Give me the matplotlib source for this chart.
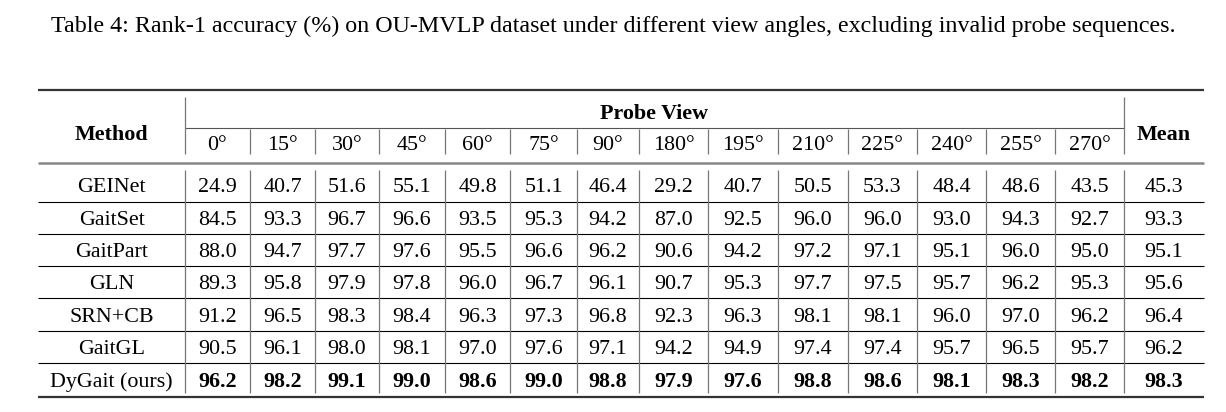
import matplotlib
matplotlib.use("Agg")
import matplotlib.pyplot as plt

plt.rcParams["font.family"] = ["Liberation Serif", "DejaVu Serif"]

TITLE = ("Table 4: Rank-1 accuracy (%) on OU-MVLP dataset under different view angles, "
         "excluding invalid probe sequences.")
angles = ["0°", "15°", "30°", "45°", "60°", "75°", "90°", "180°", "195°", "210°",
          "225°", "240°", "255°", "270°"]
methods = ["GEINet", "GaitSet", "GaitPart", "GLN", "SRN+CB", "GaitGL", "DyGait (ours)"]
geinet = [24.9, 40.7, 51.6, 55.1, 49.8, 51.1, 46.4, 29.2, 40.7, 50.5, 53.3, 48.4, 48.6, 43.5]
gaitset = [84.5, 93.3, 96.7, 96.6, 93.5, 95.3, 94.2, 87.0, 92.5, 96.0, 96.0, 93.0, 94.3, 92.7]
gaitpart = [88.0, 94.7, 97.7, 97.6, 95.5, 96.6, 96.2, 90.6, 94.2, 97.2, 97.1, 95.1, 96.0, 95.0]
gln = [89.3, 95.8, 97.9, 97.8, 96.0, 96.7, 96.1, 90.7, 95.3, 97.7, 97.5, 95.7, 96.2, 95.3]
srn_cb = [91.2, 96.5, 98.3, 98.4, 96.3, 97.3, 96.8, 92.3, 96.3, 98.1, 98.1, 96.0, 97.0, 96.2]
gaitgl = [90.5, 96.1, 98.0, 98.1, 97.0, 97.6, 97.1, 94.2, 94.9, 97.4, 97.4, 95.7, 96.5, 95.7]
dygait = [96.2, 98.2, 99.1, 99.0, 98.6, 99.0, 98.8, 97.9, 97.6, 98.8, 98.6, 98.1, 98.3, 98.2]
means = [45.3, 93.3, 95.1, 95.6, 96.4, 96.2, 98.3]
rows = [geinet, gaitset, gaitpart, gln, srn_cb, gaitgl, dygait]

# layout in pixels
W, H = 1226, 412
left, right = 38, 1204
col_edges = [185, 250, 315, 379, 445, 510, 577, 639, 708, 778, 848, 917, 986, 1055, 1124]
row_edges = [163, 202, 234, 266, 298, 331, 363, 397]
FS_TITLE = 17.3
FS = 15.8

fig = plt.figure(figsize=(W / 100, H / 100), dpi=100)
ax = fig.add_axes([0, 0, 1, 1])
ax.set_xlim(0, W)
ax.set_ylim(H, 0)
ax.axis("off")

ax.text(W / 2, 26, TITLE, ha="center", va="center", fontsize=FS_TITLE)

# rules
ax.hlines(90, left, right, color="#333333", lw=1.6)
ax.hlines(163, left, right, color="#888888", lw=1.8)
ax.hlines(397, left, right, color="#333333", lw=1.6)
ax.hlines(128, col_edges[0], col_edges[-1], color="#555555", lw=0.8)
ax.hlines(row_edges[1:-1], left, right, color="black", lw=0.8)

# vertical lines
ax.vlines([col_edges[0], col_edges[-1]], 97, 154, color="#777777", lw=0.9)
ax.vlines(col_edges[1:-1], 129, 154, color="#777777", lw=0.9)
ax.vlines(col_edges, 170, 393, color="#777777", lw=0.9)

# header (baseline positions)
ax.text((left + col_edges[0]) / 2, 140, "Method", ha="center", va="baseline",
        fontsize=FS, fontweight="bold")
ax.text((col_edges[0] + col_edges[-1]) / 2, 119, "Probe View", ha="center", va="baseline",
        fontsize=FS, fontweight="bold")
ax.text((col_edges[-1] + right) / 2, 140, "Mean", ha="center", va="baseline",
        fontsize=FS, fontweight="bold")
for i, a in enumerate(angles):
    ax.text((col_edges[i] + col_edges[i + 1]) / 2, 150, a, ha="center", va="baseline",
            fontsize=FS)

# body
for r, (name, vals, m) in enumerate(zip(methods, rows, means)):
    y = (row_edges[r] + row_edges[r + 1]) / 2 + (9.5 if r == 0 else 7)
    bold = "bold" if r == len(methods) - 1 else "normal"
    ax.text((left + col_edges[0]) / 2, y, name, ha="center", va="baseline", fontsize=FS)
    for i, v in enumerate(vals):
        ax.text((col_edges[i] + col_edges[i + 1]) / 2, y, f"{v:.1f}", ha="center",
                va="baseline", fontsize=FS, fontweight=bold)
    ax.text((col_edges[-1] + right) / 2, y, f"{m:.1f}", ha="center", va="baseline",
            fontsize=FS, fontweight=bold)

fig.savefig("out.png", dpi=100)
